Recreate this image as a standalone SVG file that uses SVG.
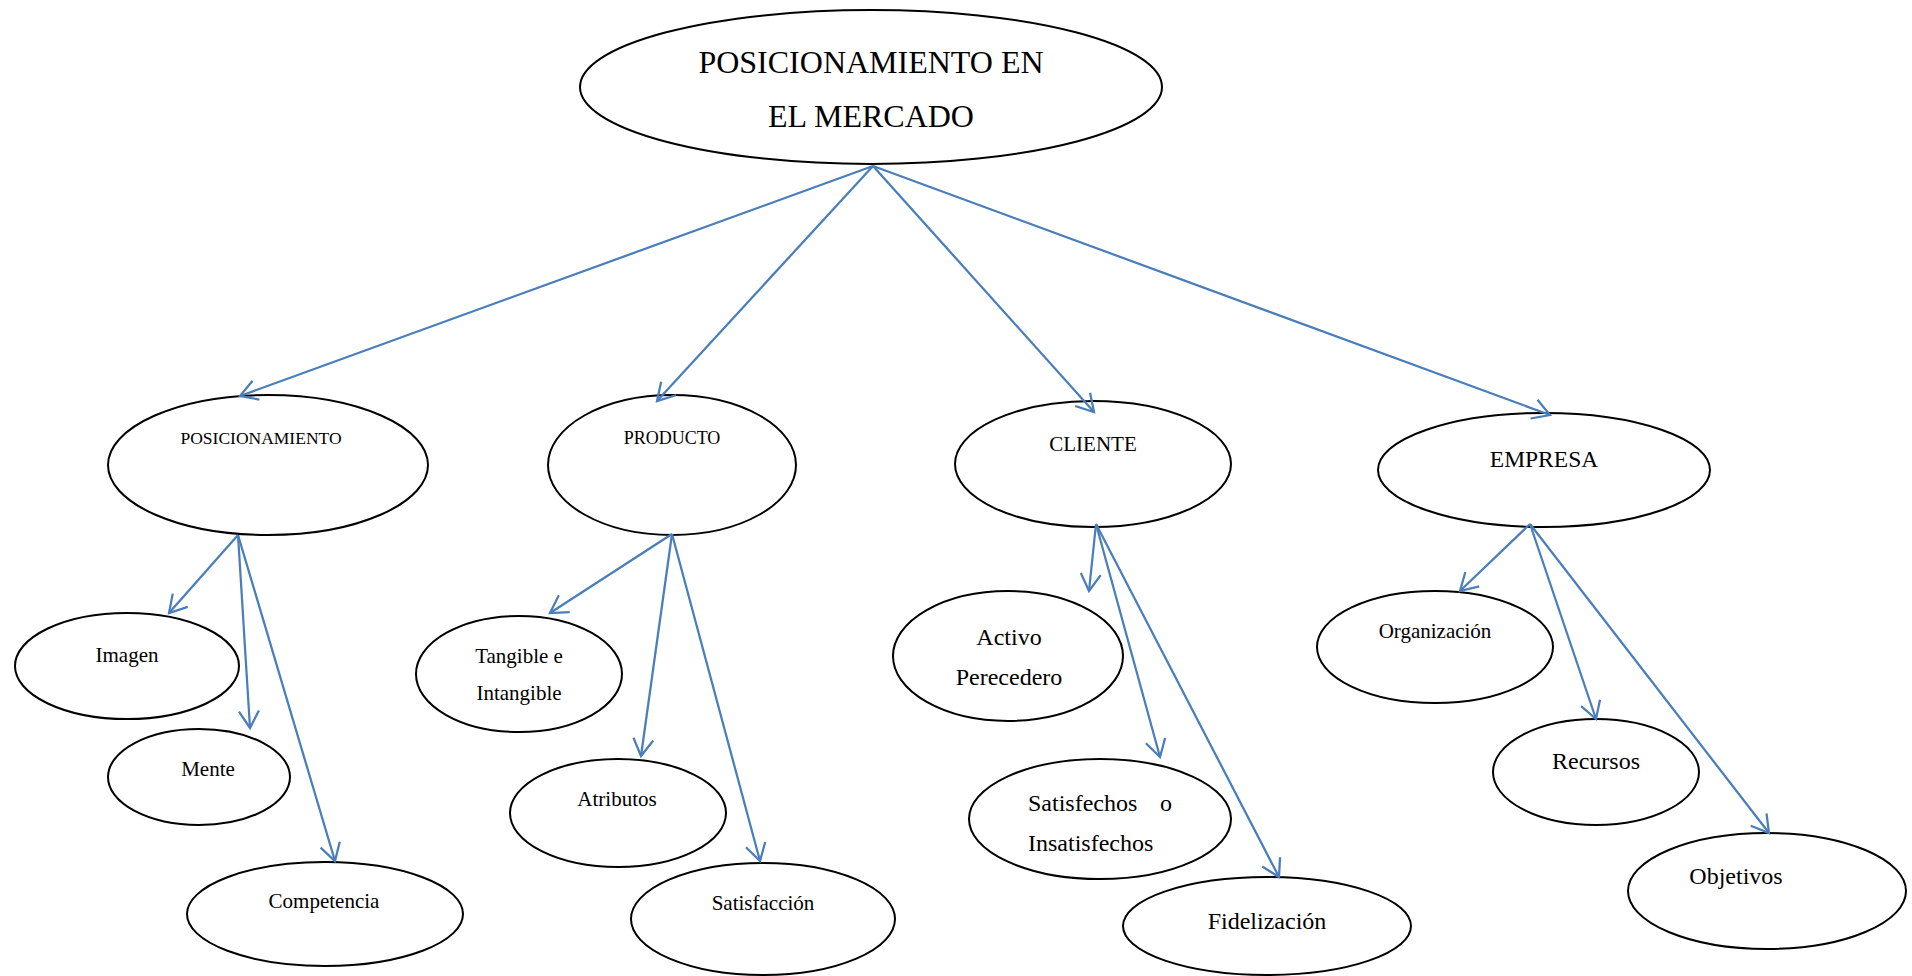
<svg xmlns="http://www.w3.org/2000/svg" width="1912" height="976" viewBox="0 0 1912 976">
<style>
.n{fill:#fff;stroke:#000;stroke-width:2}
.t{font-family:"Liberation Serif","Times New Roman",serif;fill:#000;text-anchor:middle}
.c line{stroke:#4A7EBB;stroke-width:2.25;fill:none;marker-end:url(#ah)}
</style>
<defs>
<marker id="ah" markerUnits="userSpaceOnUse" viewBox="0 0 22 26" markerWidth="22" markerHeight="26" refX="19" refY="12" orient="auto" overflow="visible">
<path d="M2,2 L19,12 L2,22" fill="none" stroke="#4A7EBB" stroke-width="2.25"/>
</marker>
</defs>
<rect width="1912" height="976" fill="#fff"/>
<g id="root"><ellipse class="n" cx="871" cy="87" rx="291" ry="77"/>
<text class="t" x="871" y="73" font-size="32">POSICIONAMIENTO EN</text>
<text class="t" x="871" y="127" font-size="32">EL MERCADO</text></g>
<g id="posicionamiento"><ellipse class="n" cx="268" cy="465" rx="160" ry="70"/>
<text class="t" x="261" y="444" font-size="17.5">POSICIONAMIENTO</text></g>
<g id="producto"><ellipse class="n" cx="672" cy="465" rx="124" ry="70"/>
<text class="t" x="672" y="444" font-size="18">PRODUCTO</text></g>
<g id="cliente"><ellipse class="n" cx="1093" cy="464" rx="138" ry="63"/>
<text class="t" x="1093" y="451" font-size="21">CLIENTE</text></g>
<g id="empresa"><ellipse class="n" cx="1544" cy="470" rx="166" ry="57"/>
<text class="t" x="1544" y="467" font-size="23.5">EMPRESA</text></g>
<g id="imagen"><ellipse class="n" cx="127" cy="666" rx="112" ry="53"/>
<text class="t" x="127" y="662" font-size="21">Imagen</text></g>
<g id="mente"><ellipse class="n" cx="199" cy="777" rx="91" ry="48"/>
<text class="t" x="208" y="776" font-size="21">Mente</text></g>
<g id="competencia"><ellipse class="n" cx="325" cy="914" rx="138" ry="52"/>
<text class="t" x="324" y="908" font-size="21">Competencia</text></g>
<g id="tangible"><ellipse class="n" cx="519" cy="674" rx="103" ry="58"/>
<text class="t" x="519" y="663" font-size="21">Tangible e</text>
<text class="t" x="519" y="700" font-size="21">Intangible</text></g>
<g id="atributos"><ellipse class="n" cx="618" cy="813" rx="108" ry="54"/>
<text class="t" x="617" y="806" font-size="21">Atributos</text></g>
<g id="satisfaccion"><ellipse class="n" cx="763" cy="919" rx="132" ry="56"/>
<text class="t" x="763" y="910" font-size="21">Satisfacción</text></g>
<g id="activo"><ellipse class="n" cx="1008" cy="656" rx="115" ry="65"/>
<text class="t" x="1009" y="645" font-size="24">Activo</text>
<text class="t" x="1009" y="685" font-size="24">Perecedero</text></g>
<g id="satisfechos"><ellipse class="n" cx="1100" cy="819" rx="131" ry="60"/>
<text class="t" font-size="24" style="text-anchor:start"><tspan x="1028" y="811">Satisfechos</tspan><tspan x="1160" y="811">o</tspan></text>
<text class="t" x="1028" y="851" font-size="24" style="text-anchor:start">Insatisfechos</text></g>
<g id="fidelizacion"><ellipse class="n" cx="1267" cy="926" rx="144" ry="49"/>
<text class="t" x="1267" y="929" font-size="24">Fidelización</text></g>
<g id="organizacion"><ellipse class="n" cx="1435" cy="647" rx="118" ry="56"/>
<text class="t" x="1435" y="638" font-size="21">Organización</text></g>
<g id="recursos"><ellipse class="n" cx="1596" cy="772" rx="103" ry="53"/>
<text class="t" x="1596" y="769" font-size="24">Recursos</text></g>
<g id="objetivos"><ellipse class="n" cx="1767" cy="891" rx="139" ry="58"/>
<text class="t" x="1736" y="884" font-size="24">Objetivos</text></g>
<g id="connectors" class="c">
<line x1="873" y1="166" x2="240" y2="396"/>
<line x1="873" y1="166" x2="657" y2="401"/>
<line x1="873" y1="166" x2="1094" y2="412"/>
<line x1="873" y1="166" x2="1550" y2="415"/>
<line x1="238" y1="535" x2="169" y2="613"/>
<line x1="238" y1="535" x2="250" y2="728"/>
<line x1="238" y1="535" x2="335" y2="861"/>
<line x1="672" y1="534" x2="550" y2="613"/>
<line x1="672" y1="534" x2="641" y2="756"/>
<line x1="672" y1="534" x2="760" y2="861"/>
<line x1="1096" y1="524" x2="1089" y2="591"/>
<line x1="1096" y1="524" x2="1160" y2="757"/>
<line x1="1096" y1="524" x2="1279" y2="877"/>
<line x1="1530" y1="524" x2="1460" y2="591"/>
<line x1="1530" y1="524" x2="1596" y2="719"/>
<line x1="1530" y1="524" x2="1769" y2="833"/>
</g>
</svg>
